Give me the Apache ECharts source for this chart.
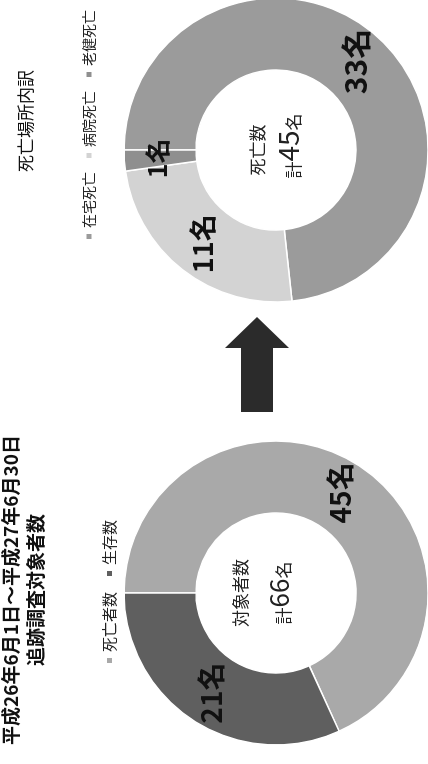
<!DOCTYPE html>
<html>
<head>
<meta charset="utf-8">
<script src="https://cdn.jsdelivr.net/npm/echarts@6/dist/echarts.min.js"></script>
<style>
  html, body { margin: 0; padding: 0; width: 428px; height: 764px; overflow: hidden; background: #fff; }
  #chart { position: absolute; left: 0; top: 0; width: 764px; height: 428px;
           transform-origin: 0 0; transform: rotate(-90deg) translateX(-764px); }
</style>
</head>
<body>
<div id="chart"></div>
<script>
// ---- data ----
const subjectTitle = ['平成26年6月1日～平成27年6月30日', '追跡調査対象者数'];
const subjectCategories = ['死亡者数', '生存数'];
const subjectValues = [45, 21];
const subjectColors = ['#a9a9a9', '#5f5f5f'];
const subjectCenterLabel = '対象者数';

const placeTitle = '死亡場所内訳';
const placeCategories = ['在宅死亡', '病院死亡', '老健死亡'];
const placeValues = [33, 11, 1];
const placeColors = ['#9b9b9b', '#d3d3d3', '#8f8f8f'];
const placeCenterLabel = '死亡数';

const unit = '名';

// ---- layout ----
const FONT = '"Noto Sans CJK JP", "Noto Sans", sans-serif';
const leftCenter = [171, 276];
const rightCenter = [614, 276];
const radius = [80, 152];

const sum = a => a.reduce((s, v) => s + v, 0);

function pieSeries(name, cats, vals, colors, center, sizes) {
  return {
    type: 'pie',
    name: name,
    center: center,
    radius: radius,
    startAngle: 90,
    clockwise: true,
    avoidLabelOverlap: false,
    silent: true,
    itemStyle: { borderColor: '#ffffff', borderWidth: 1.5 },
    label: {
      show: true,
      position: 'inside',
      formatter: '{c}' + unit,
      color: '#111',
      fontWeight: 'bold',
      fontFamily: FONT
    },
    labelLine: { show: false },
    data: cats.map((c, i) => ({
      name: c, value: vals[i],
      itemStyle: { color: colors[i] },
      label: { fontSize: sizes[i] }
    }))
  };
}

function centerText(center, line1, total, y1, y2, dx2, bigSize) {
  return [
    { type: 'text', x: center[0], y: y1, silent: true,
      style: { text: line1, fontSize: 17, fontFamily: FONT, fill: '#222',
               align: 'center', verticalAlign: 'middle' } },
    { type: 'text', x: center[0] + dx2, y: y2, silent: true,
      style: { text: '{s|計}{b|' + total + '}{s|' + unit + '}', fontFamily: FONT,
               align: 'center', verticalAlign: 'middle',
               rich: {
                 s: { fontSize: 17, fontFamily: FONT, fill: '#222', verticalAlign: 'bottom' },
                 b: { fontSize: bigSize, fontFamily: FONT, fill: '#222' }
               } } }
  ];
}

const chart = echarts.init(document.getElementById('chart'), null, { renderer: 'canvas' });

chart.setOption({
  backgroundColor: '#ffffff',
  animation: false,
  legend: [
    { data: subjectCategories, left: 94, top: 97, orient: 'horizontal',
      itemWidth: 7, itemHeight: 7, itemGap: 14, icon: 'rect', selectedMode: false,
      textStyle: { fontSize: 15, fontFamily: FONT, color: '#222' } },
    { data: placeCategories, left: 523, top: 82, width: 240, orient: 'horizontal', padding: 0,
      itemWidth: 7, itemHeight: 7, itemGap: 12, icon: 'rect', selectedMode: false,
      textStyle: { fontSize: 14, fontFamily: FONT, color: '#222' } }
  ],
  series: [
    pieSeries('対象者', subjectCategories, subjectValues, subjectColors, leftCenter, [28, 28]),
    pieSeries('死亡場所', placeCategories, placeValues, placeColors, rightCenter, [30, 27, 25])
  ],
  graphic: [
    { type: 'text', x: 174, y: 11, silent: true,
      style: { text: subjectTitle[0], fontSize: 19, fontWeight: 'bold', fontFamily: FONT,
               fill: '#111', align: 'center', verticalAlign: 'middle' } },
    { type: 'text', x: 174, y: 36, silent: true,
      style: { text: subjectTitle[1], fontSize: 19, fontWeight: 'bold', fontFamily: FONT,
               fill: '#111', align: 'center', verticalAlign: 'middle' } },
    { type: 'text', x: 643, y: 26, silent: true,
      style: { text: placeTitle, fontSize: 17, fontWeight: 'normal', fontFamily: FONT,
               fill: '#111', align: 'center', verticalAlign: 'middle' } },
    { type: 'polygon', silent: true,
      shape: { points: [[352, 241], [416, 241], [416, 225], [447, 257], [416, 289], [416, 273], [352, 273]] },
      style: { fill: '#2b2b2b' } },
    ...centerText(leftCenter, subjectCenterLabel, sum(subjectValues), 241, 279, 0, 26),
    ...centerText(rightCenter, placeCenterLabel, sum(placeValues), 258, 288, 4, 28)
  ]
});
</script>
</body>
</html>
